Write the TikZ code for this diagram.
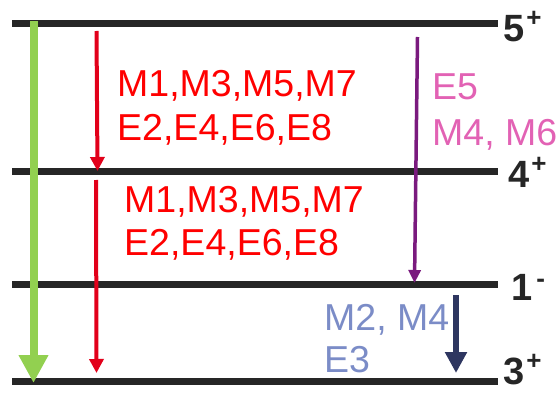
\documentclass[tikz,border=0pt]{standalone}
\usepackage{fontspec}
\setmainfont{Liberation Sans}
\usetikzlibrary{arrows.meta}
\definecolor{levelc}{HTML}{262626}
\definecolor{greenc}{HTML}{92D050}
\definecolor{redarr}{HTML}{E2001A}
\definecolor{redtxt}{HTML}{FF0000}
\definecolor{purparr}{HTML}{7A1A7E}
\definecolor{pinktxt}{HTML}{E262B4}
\definecolor{bluetxt}{HTML}{7B8CC7}
\definecolor{navyarr}{HTML}{2E3660}
\newcommand{\supsign}[1]{\kern2pt\raisebox{15pt}{\fontsize{26}{26}\selectfont\bfseries #1}}
\tikzset{
  level/.style={draw=levelc, line width=7pt},
  lvllabel/.style={anchor=base west, inner sep=0pt, text=levelc, font=\fontsize{38}{38}\selectfont\bfseries},
  trans/.style={anchor=base west, inner sep=0pt, font=\fontsize{37.5}{43}\selectfont},
  greenarrow/.style={draw=greenc, line width=8pt, -{Triangle[width=28pt,length=28pt]}},
  redarrow/.style={draw=redarr, line width=4pt, -{Triangle[width=14pt,length=14pt]}},
  purparrow/.style={draw=purparr, line width=3.5pt, -{Triangle[width=12pt,length=13pt]}},
  navyarrow/.style={draw=navyarr, line width=6pt, -{Triangle[width=21pt,length=21pt]}}
}
\begin{document}
\begin{tikzpicture}[x=1pt,y=-1pt]
\useasboundingbox (0,0) rectangle (559,393);
% levels
\coordinate (L5a) at (12,24);  \coordinate (L5b) at (498,24);
\coordinate (L4a) at (12,171); \coordinate (L4b) at (498,171);
\coordinate (L1a) at (12,284); \coordinate (L1b) at (498,284);
\coordinate (L3a) at (12,381); \coordinate (L3b) at (498,381);
\draw[level] (L5a) -- (L5b);
\draw[level] (L4a) -- (L4b);
\draw[level] (L1a) -- (L1b);
\draw[level] (L3a) -- (L3b);
% level labels
\node[lvllabel] (lab5) at (503,42) {5\supsign{+}};
\node[lvllabel] (lab4) at (508,187) {4\supsign{+}};
\node[lvllabel] (lab1) at (511,300) {1\kern4pt\raisebox{13pt}{\fontsize{26}{26}\selectfont\bfseries -}};
\node[lvllabel] (lab3) at (503,384) {3\supsign{+}};
% arrows
\coordinate (g1) at (33.5,21); \coordinate (g2) at (33.5,383);
\draw[greenarrow] (g1) -- (g2);
\coordinate (r1a) at (96.5,31); \coordinate (r1b) at (97.5,171);
\draw[redarrow] (r1a) -- (r1b);
\coordinate (r2a) at (96,180); \coordinate (r2b) at (96.5,373);
\draw[redarrow] (r2a) -- (r2b);
\coordinate (p1) at (417.5,37); \coordinate (p2) at (414.5,283);
\draw[purparrow] (p1) -- (p2);
\coordinate (n1) at (456,295); \coordinate (n2) at (456,373);
\draw[navyarrow] (n1) -- (n2);
% transition labels
\node[trans, text=redtxt] (ta1) at (117,97) {M1,M3,M5,M7};
\node[trans, text=redtxt] (ta2) at (117,140) {E2,E4,E6,E8};
\node[trans, text=redtxt] (tb1) at (124,212) {M1,M3,M5,M7};
\node[trans, text=redtxt] (tb2) at (124,255) {E2,E4,E6,E8};
\node[trans, text=pinktxt] (tp1) at (432,100) {E5};
\node[trans, text=pinktxt] (tp2) at (432,145) {M4, M6};
\node[trans, text=bluetxt] (tn1) at (324,330) {M2, M4};
\node[trans, text=bluetxt] (tn2) at (324,372) {E3};
\end{tikzpicture}
\end{document}
